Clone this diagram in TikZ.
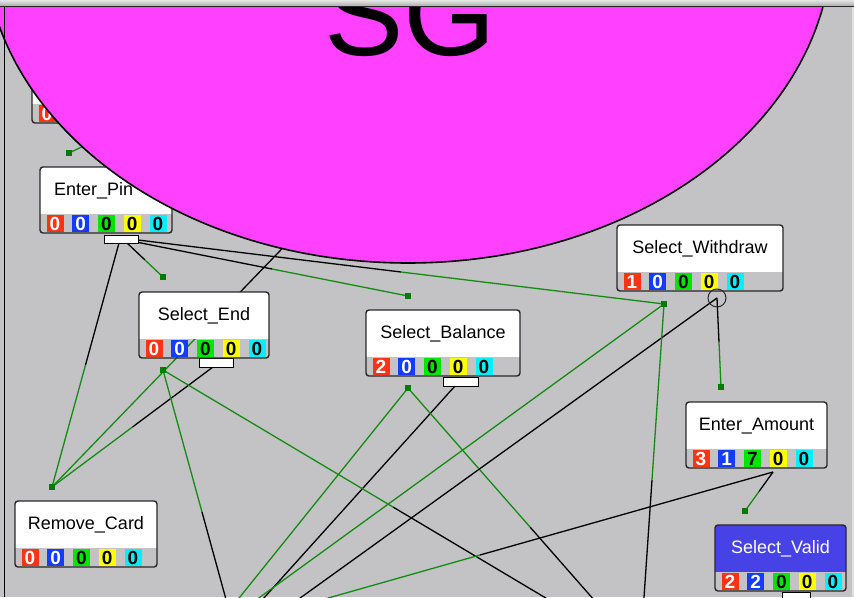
\documentclass[tikz,border=0pt]{standalone}
\usepackage{fontspec}
\setmainfont{Liberation Sans}
\usetikzlibrary{calc}
\definecolor{bgc}{RGB}{195,194,196}
\definecolor{mag}{RGB}{255,64,255}
\definecolor{lgreen}{RGB}{20,140,20}
\definecolor{dgreen}{RGB}{0,125,0}
\definecolor{bred}{RGB}{255,50,20}
\definecolor{bblue}{RGB}{20,60,255}
\definecolor{bgreen}{RGB}{0,230,0}
\definecolor{byellow}{RGB}{255,255,0}
\definecolor{bcyan}{RGB}{0,240,255}
\definecolor{vblue}{RGB}{70,66,230}
\definecolor{nborder}{RGB}{40,40,40}
\tikzset{
 blk/.style={draw=black, line width=1.3pt},
 grn/.style={draw=lgreen, line width=1.3pt},
 tdot/.style={rectangle, fill=dgreen, minimum size=6pt, inner sep=0pt},
 hdr/.style={fill=white},
 lbl/.style={text=black, font=\fontsize{18}{20}\selectfont, inner sep=0pt},
 digbox/.style={minimum width=17pt, minimum height=17pt, inner sep=0pt, font=\fontsize{19}{19}\selectfont\bfseries},
 nframe/.style={draw=nborder, line width=1.4pt, rounded corners=3pt},
 tabbox/.style={draw=black, fill=white, line width=1pt, inner sep=0pt},
}
\newcommand\edgeline[2]{%
 \draw[blk] (#1) -- ($(#1)!0.5!(#2)$);
 \draw[grn] ($(#1)!0.5!(#2)$) -- (#2);}
\newcommand\stnode[9]{%
 \begin{scope}
 \clip (#2,#3) rectangle ({#2+#4},{#3+46});
 \fill[hdr, rounded corners=3pt] (#2,#3) rectangle ({#2+#4},{#3+66});
 \end{scope}
 \draw[nframe] (#2,#3) rectangle ({#2+#4},{#3+66});
 \node[lbl] (#1) at ({#2+#4/2},{#3+24}) {#5};
 \foreach \d/\bc/\tc [count=\i from 0] in {#6/bred/white,#7/bblue/white,#8/bgreen/black,#9/byellow/black,0/bcyan/black}
 \node[digbox, fill=\bc, text=\tc] (#1d\i) at ({#2+15+25.75*\i},{#3+56.5}) {\d};
}
\begin{document}
\begin{tikzpicture}[x=1pt,y=-1pt]
\useasboundingbox (0,0) rectangle (854,597);
\clip (0,0) rectangle (854,597);
\fill[bgc] (0,0) rectangle (854,597);
% ports
\coordinate (pEP2) at (119,243);
\coordinate (pEP3) at (127,243);
\coordinate (pEP4) at (136,242);
\coordinate (pEP5) at (138,240);
\coordinate (pSE) at (213,367);
\coordinate (pSB) at (455,386);
\coordinate (pSW) at (717,298);
\coordinate (pEA) at (773,472);
\coordinate (hS1) at (115,131);
\coordinate (hS6) at (387,140);
% target dots
\coordinate (dEP) at (69,153);
\coordinate (dSE1) at (163,277);
\coordinate (dSB) at (408,296);
\coordinate (dSW) at (664,304);
\coordinate (dSE2) at (163,370);
\coordinate (dSB2) at (408,388);
\coordinate (dEA) at (721,387);
\coordinate (dSV) at (745,511);
\coordinate (dRC) at (52,487);
% ends outside the frame
\coordinate (xT8) at (52,833);
\coordinate (xS9) at (241,654);
\coordinate (xS10) at (623,644);
\coordinate (xS11) at (652,666);
\coordinate (xS12) at (38,848);
\coordinate (xT13) at (-200,958);
\coordinate (xS14) at (-225,949);
\coordinate (xS15) at (640,656);
\coordinate (xT17) at (187,638);
% edges
\edgeline{hS1}{dEP}
\edgeline{pEP2}{dRC}
\edgeline{pEP3}{dSE1}
\edgeline{pEP4}{dSB}
\edgeline{pEP5}{dSW}
\edgeline{hS6}{dRC}
\edgeline{pSE}{dRC}
\edgeline{pSB}{xT8}
\edgeline{xS9}{dSE2}
\edgeline{xS10}{dSE2}
\edgeline{xS11}{dSB2}
\edgeline{xS12}{dSB2}
\edgeline{pSW}{xT13}
\edgeline{xS14}{dSW}
\edgeline{xS15}{dSW}
\edgeline{pSW}{dEA}
\edgeline{pEA}{xT17}
\edgeline{pEA}{dSV}
% dots
\foreach \n in {dEP,dSE1,dSB,dSW,dSE2,dSB2,dEA,dSV,dRC}
 \node[tdot] (m\n) at (\n) {};
% tabs
\node[tabbox, minimum width=34pt, minimum height=8pt] (tEP) at (121,239) {};
\node[tabbox, minimum width=34pt, minimum height=9pt] (tSE) at (216,362.5) {};
\node[tabbox, minimum width=35pt, minimum height=9pt] (tSB) at (460.5,381.5) {};
\node[tabbox, minimum width=28pt, minimum height=10pt] (tSV) at (796,597) {};
% state nodes
\stnode{hidden}{32}{57}{130}{}{0}{0}{0}{0}
\begin{scope}[lbl/.append style={anchor=west, xshift=-52pt}]
\stnode{enterpin}{40}{167}{132}{Enter\_Pin}{0}{0}{0}{0}
\end{scope}
\stnode{selend}{139}{292}{130}{Select\_End}{0}{0}{0}{0}
\stnode{selbal}{366}{310}{154}{Select\_Balance}{2}{0}{0}{0}
\stnode{selwd}{617}{225}{166}{Select\_Withdraw}{1}{0}{0}{0}
\stnode{entam}{686}{402}{141}{Enter\_Amount}{3}{1}{7}{0}
\stnode{remcard}{15}{501}{142}{Remove\_Card}{0}{0}{0}{0}
\begin{scope}[hdr/.style={fill=vblue}, lbl/.append style={text=white}]
\stnode{selvalid}{715}{525}{131}{Select\_Valid}{2}{2}{0}{0}
\end{scope}
\node[circle, draw=nborder, line width=1pt, minimum size=18pt, inner sep=0pt] (cSW) at (pSW) {};
% magenta ellipse with SG
\draw[fill=mag, line width=1.6pt] (408,-60) ellipse [x radius=424, y radius=323];
\node[anchor=base, inner sep=0pt, font=\fontsize{119}{119}\selectfont] (sg) at (410,55) {SG};
% window top bar and frame
\shade[top color=gray!20, bottom color=gray!65] (0,0) rectangle (854,6);
\draw[gray!30!black, line width=1pt] (0,6.5) -- (854,6.5);
\draw[black, line width=1.4pt] (4.3,7) -- (4.3,597);
\draw[gray!25, line width=2pt] (853,7) -- (853,597);
\end{tikzpicture}
\end{document}
